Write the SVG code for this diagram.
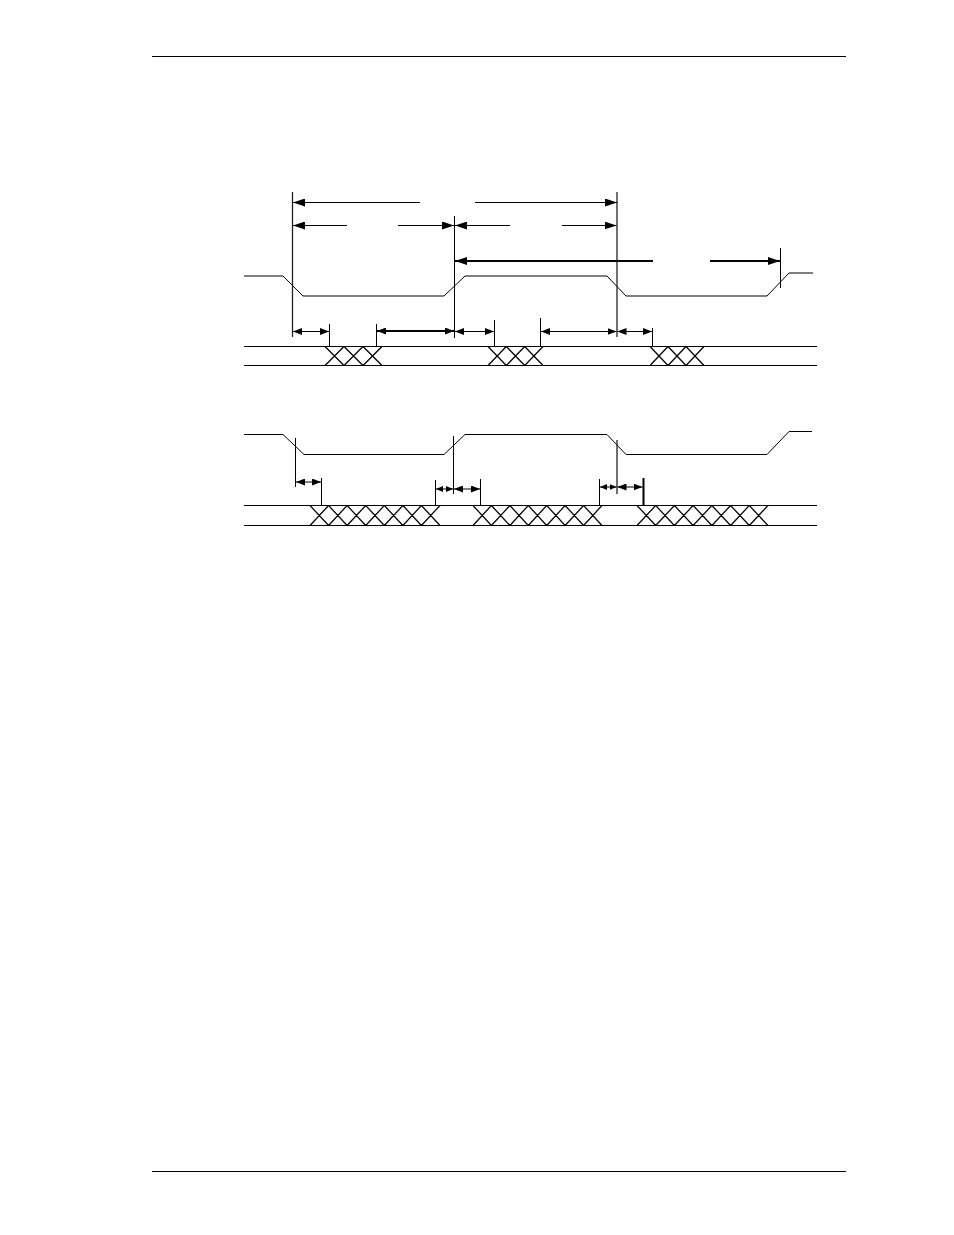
<svg xmlns="http://www.w3.org/2000/svg" width="954" height="1235" viewBox="0 0 954 1235">
<style>
.ln{stroke:#000;stroke-width:1;fill:none}
.thk{stroke:#000;stroke-width:2;fill:none}
.gv{stroke:#222;stroke-width:1.3;fill:none}
.x{stroke:#000;stroke-width:1.25;fill:none}
</style>
<defs>
<marker id="ah" viewBox="0 0 12 8" refX="12" refY="4" markerWidth="12" markerHeight="8" markerUnits="userSpaceOnUse" orient="auto-start-reverse"><path d="M0,0 L12,4 L0,8 z" fill="#000"/></marker>
<marker id="as" viewBox="0 0 9 7" refX="9" refY="3.5" markerWidth="9" markerHeight="7" markerUnits="userSpaceOnUse" orient="auto-start-reverse"><path d="M0,0 L9,3.5 L0,7 z" fill="#000"/></marker>
<marker id="at" viewBox="0 0 7 6" refX="7" refY="3" markerWidth="7" markerHeight="6" markerUnits="userSpaceOnUse" orient="auto-start-reverse"><path d="M0,0 L7,3 L0,6 z" fill="#000"/></marker>
</defs>
<rect width="954" height="1235" fill="#fff"/>
<g id="page">
<line class="ln" x1="152" y1="56.5" x2="846" y2="56.5"/>
<line class="ln" x1="152" y1="1171.5" x2="846" y2="1171.5"/>
</g>
<g id="clock-top">
<polyline class="ln" points="244,276 283,276 303,296 444,296 465,276 607,276 626,296 767,296 789,273 813,273"/>
</g>
<g id="bus-top">
<line class="ln" x1="244" y1="346.5" x2="817" y2="346.5"/>
<line class="ln" x1="244" y1="365.5" x2="817" y2="365.5"/>
<path class="x" d="M325,346.5 L344,365.5 M344,346.5 L363,365.5 M363,346.5 L382,365.5 M325,365.5 L344,346.5 M344,365.5 L363,346.5 M363,365.5 L382,346.5"/>
<path class="x" d="M488,346.5 L506.3,365.5 M506.3,346.5 L524.7,365.5 M524.7,346.5 L543,365.5 M488,365.5 L506.3,346.5 M506.3,365.5 L524.7,346.5 M524.7,365.5 L543,346.5"/>
<path class="x" d="M650,346.5 L668,365.5 M668,346.5 L686,365.5 M686,346.5 L704,365.5 M650,365.5 L668,346.5 M668,365.5 L686,346.5 M686,365.5 L704,346.5"/>
</g>
<g id="clock-bottom">
<polyline class="ln" points="244,434.5 283,434.5 304,454.5 444,454.5 465,434.5 607,434.5 626,454.5 767,454.5 789,431.5 812,431.5"/>
<line class="ln" x1="304" y1="454.5" x2="444" y2="454.5" stroke-width="1.6"/>
</g>
<g id="bus-bottom">
<line class="ln" x1="244" y1="505.5" x2="817" y2="505.5"/>
<line class="ln" x1="244" y1="525.5" x2="817" y2="525.5"/>
<path class="x" d="M310,505.5 L328.6,525.5 M328.6,505.5 L347.1,525.5 M347.1,505.5 L365.7,525.5 M365.7,505.5 L384.3,525.5 M384.3,505.5 L402.9,525.5 M402.9,505.5 L421.4,525.5 M421.4,505.5 L440,525.5 M310,525.5 L328.6,505.5 M328.6,525.5 L347.1,505.5 M347.1,525.5 L365.7,505.5 M365.7,525.5 L384.3,505.5 M384.3,525.5 L402.9,505.5 M402.9,525.5 L421.4,505.5 M421.4,525.5 L440,505.5"/>
<path class="x" d="M473,505.5 L491.4,525.5 M491.4,505.5 L509.9,525.5 M509.9,505.5 L528.3,525.5 M528.3,505.5 L546.7,525.5 M546.7,505.5 L565.1,525.5 M565.1,505.5 L583.6,525.5 M583.6,505.5 L602,525.5 M473,525.5 L491.4,505.5 M491.4,525.5 L509.9,505.5 M509.9,525.5 L528.3,505.5 M528.3,525.5 L546.7,505.5 M546.7,525.5 L565.1,505.5 M565.1,525.5 L583.6,505.5 M583.6,525.5 L602,505.5"/>
<path class="x" d="M637,505.5 L655.7,525.5 M655.7,505.5 L674.4,525.5 M674.4,505.5 L693.1,525.5 M693.1,505.5 L711.9,525.5 M711.9,505.5 L730.6,525.5 M730.6,505.5 L749.3,525.5 M749.3,505.5 L768,525.5 M637,525.5 L655.7,505.5 M655.7,525.5 L674.4,505.5 M674.4,525.5 L693.1,505.5 M693.1,525.5 L711.9,505.5 M711.9,525.5 L730.6,505.5 M730.6,525.5 L749.3,505.5 M749.3,525.5 L768,505.5"/>
</g>
<g id="connectors">
<line class="gv" x1="292.5" y1="192" x2="292.5" y2="337"/>
<line class="ln" x1="454.5" y1="216" x2="454.5" y2="338"/>
<line class="gv" x1="617" y1="192" x2="617" y2="337"/>
<line class="ln" x1="780.5" y1="248" x2="780.5" y2="288"/>
<line class="ln" x1="329.5" y1="324" x2="329.5" y2="346"/>
<line class="ln" x1="376.5" y1="324" x2="376.5" y2="346"/>
<line class="ln" x1="494.5" y1="320" x2="494.5" y2="346"/>
<line class="ln" x1="540.5" y1="318" x2="540.5" y2="346"/>
<line class="ln" x1="652.5" y1="328" x2="652.5" y2="346"/>
<line class="ln" x1="293" y1="202.5" x2="420" y2="202.5" marker-start="url(#ah)"/>
<line class="ln" x1="475" y1="202.5" x2="617" y2="202.5" marker-end="url(#ah)"/>
<line class="ln" x1="293" y1="225.5" x2="347" y2="225.5" marker-start="url(#ah)"/>
<line class="ln" x1="398" y1="225.5" x2="454" y2="225.5" marker-end="url(#ah)"/>
<line class="ln" x1="455" y1="225.5" x2="510" y2="225.5" marker-start="url(#ah)"/>
<line class="ln" x1="562" y1="225.5" x2="616.5" y2="225.5" marker-end="url(#ah)"/>
<line class="thk" x1="455" y1="261" x2="653" y2="261" marker-start="url(#ah)"/>
<line class="thk" x1="710" y1="261" x2="780" y2="261" marker-end="url(#ah)"/>
<line class="ln" x1="293" y1="331.5" x2="329" y2="331.5" marker-start="url(#as)" marker-end="url(#as)"/>
<line class="thk" x1="377" y1="331" x2="454" y2="331" marker-start="url(#as)" marker-end="url(#as)"/>
<line class="ln" x1="455" y1="331.5" x2="494" y2="331.5" marker-start="url(#as)" marker-end="url(#as)"/>
<line class="ln" x1="541" y1="331.5" x2="616.5" y2="331.5" marker-start="url(#as)" marker-end="url(#as)"/>
<line class="ln" x1="617.5" y1="331.5" x2="652" y2="331.5" marker-start="url(#as)" marker-end="url(#as)"/>
<line class="ln" x1="295.5" y1="438" x2="295.5" y2="487"/>
<line class="ln" x1="321.5" y1="478" x2="321.5" y2="505"/>
<line class="ln" x1="435.5" y1="480" x2="435.5" y2="505"/>
<line class="ln" x1="453.5" y1="436" x2="453.5" y2="494"/>
<line class="ln" x1="480.5" y1="479" x2="480.5" y2="505"/>
<line class="ln" x1="599.5" y1="479" x2="599.5" y2="505"/>
<line class="gv" x1="617" y1="440" x2="617" y2="494"/>
<line class="thk" x1="643.5" y1="478" x2="643.5" y2="505"/>
<line class="ln" x1="296" y1="482" x2="321" y2="482" marker-start="url(#as)" marker-end="url(#as)"/>
<line class="ln" x1="436" y1="489" x2="453" y2="489" marker-start="url(#at)" marker-end="url(#at)"/>
<line class="ln" x1="454" y1="489" x2="480" y2="489" marker-start="url(#as)" marker-end="url(#as)"/>
<line class="ln" x1="600" y1="487" x2="616.5" y2="487" marker-start="url(#at)" marker-end="url(#at)"/>
<line class="ln" x1="617.5" y1="487" x2="642.5" y2="487" marker-start="url(#as)" marker-end="url(#as)"/>
</g>
</svg>
